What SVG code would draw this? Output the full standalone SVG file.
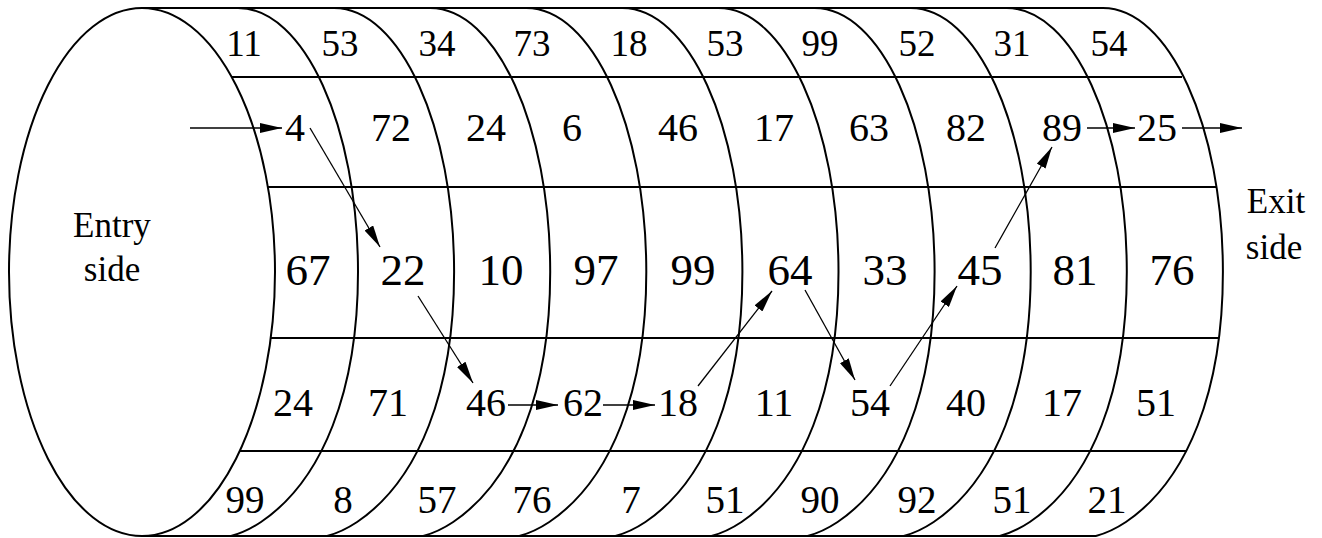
<svg xmlns="http://www.w3.org/2000/svg" width="1322" height="538" viewBox="0 0 1322 538">
<style>
.o{fill:none;stroke:#000;stroke-width:2}
.h{fill:none;stroke:#000;stroke-width:2}
.c{fill:none;stroke:#000;stroke-width:1.3}
.t{font-family:"Liberation Serif","Times New Roman",Times,"DejaVu Serif",serif;fill:#000;text-anchor:middle}
.r1{font-size:37px}.r2{font-size:40px}.r3{font-size:45px}.r4{font-size:40px}.r5{font-size:39px}
.lb{font-size:35px}
</style>
<defs>
<marker id="ah" markerUnits="userSpaceOnUse" markerWidth="22" markerHeight="10" refX="22" refY="5" orient="auto"><path d="M0,0 L22,5 L0,10 z" fill="#000"/></marker>
<path id="arc" d="M0,8 C66,8 120,126 120,272 C120,390 85,480 23,522 Q8,532 -7,536"/>
</defs>
<rect width="1322" height="538" fill="#fff"/>
<g id="cylinder">
<ellipse class="o" cx="142" cy="272" rx="133" ry="264"/>
<path class="o" d="M142,8 H1103 M142,536 H1096"/>
<g class="o">
<use href="#arc" x="238"/><use href="#arc" x="334.1"/><use href="#arc" x="430.2"/><use href="#arc" x="526.3"/><use href="#arc" x="622.4"/>
<use href="#arc" x="718.5"/><use href="#arc" x="814.6"/><use href="#arc" x="910.7"/><use href="#arc" x="1006.8"/><use href="#arc" x="1102.9"/>
</g>
<path class="h" d="M232,77 H1182 M268,187 H1217 M271,338 H1219 M240,451 H1187"/>
</g>
<g id="row1" class="t r1" font-family="Liberation Serif, serif">
<text x="244" y="56">11</text><text x="340" y="56">53</text><text x="437" y="56">34</text><text x="532" y="56">73</text><text x="629" y="56">18</text>
<text x="725" y="56">53</text><text x="820" y="56">99</text><text x="917" y="56">52</text><text x="1012" y="56">31</text><text x="1109" y="56">54</text>
</g>
<g id="row2" class="t r2" font-family="Liberation Serif, serif">
<text x="295" y="141">4</text><text x="391" y="141">72</text><text x="486" y="141">24</text><text x="572" y="141">6</text><text x="678" y="141">46</text>
<text x="774" y="141">17</text><text x="869" y="141">63</text><text x="966" y="141">82</text><text x="1062" y="141">89</text><text x="1157" y="141">25</text>
</g>
<g id="row3" class="t r3" font-family="Liberation Serif, serif">
<text x="308" y="285">67</text><text x="403" y="285">22</text><text x="501" y="285">10</text><text x="596" y="285">97</text><text x="693" y="285">99</text>
<text x="790" y="285">64</text><text x="885" y="285">33</text><text x="980" y="285">45</text><text x="1075" y="285">81</text><text x="1172" y="285">76</text>
</g>
<g id="row4" class="t r4" font-family="Liberation Serif, serif">
<text x="293" y="416">24</text><text x="388" y="416">71</text><text x="486" y="416">46</text><text x="583" y="416">62</text><text x="678" y="416">18</text>
<text x="774" y="416">11</text><text x="870" y="416">54</text><text x="966" y="416">40</text><text x="1062" y="416">17</text><text x="1156" y="416">51</text>
</g>
<g id="row5" class="t r5" font-family="Liberation Serif, serif">
<text x="245" y="513">99</text><text x="343" y="513">8</text><text x="437" y="513">57</text><text x="532" y="513">76</text><text x="631" y="513">7</text>
<text x="725" y="513">51</text><text x="820" y="513">90</text><text x="917" y="513">92</text><text x="1012" y="513">51</text><text x="1107" y="513">21</text>
</g>
<g id="entry" class="t lb" font-family="Liberation Serif, serif"><text x="112" y="237">Entry</text><text x="112" y="281">side</text></g>
<g id="exit" class="t lb" font-family="Liberation Serif, serif"><text x="1276" y="213">Exit</text><text x="1274" y="259">side</text></g>
<g id="connectors" class="c" marker-end="url(#ah)">
<line x1="190" y1="128" x2="282" y2="128"/>
<line x1="310" y1="128" x2="380" y2="247"/>
<line x1="418" y1="296" x2="473" y2="383"/>
<line x1="508" y1="405" x2="558" y2="405"/>
<line x1="603" y1="405" x2="655" y2="405"/>
<line x1="698" y1="386" x2="772" y2="291"/>
<line x1="805" y1="290" x2="855" y2="380"/>
<line x1="890" y1="386" x2="957" y2="286"/>
<line x1="995" y1="248" x2="1052" y2="147"/>
<line x1="1087" y1="128" x2="1135" y2="128"/>
<line x1="1182" y1="128" x2="1242" y2="128"/>
</g>
</svg>
